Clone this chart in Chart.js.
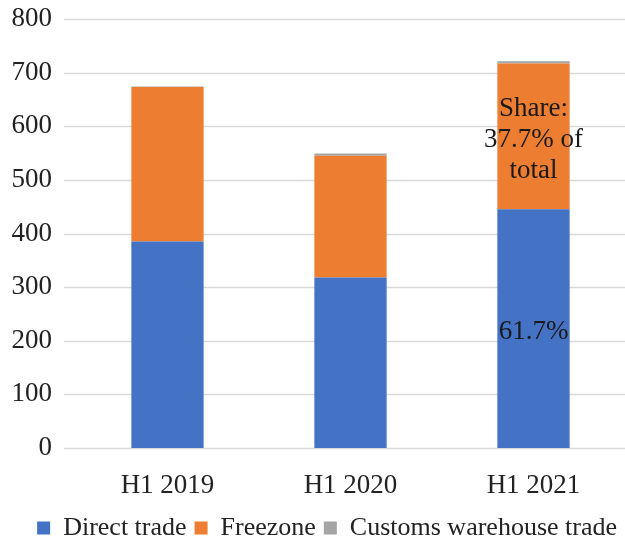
<!DOCTYPE html>
<html>
<head>
<meta charset="utf-8">
<title>Trade by regime</title>
<script src="https://cdn.jsdelivr.net/npm/chart.js@4.4.1/dist/chart.umd.min.js"></script>
<style>
  html, body { margin: 0; padding: 0; background: #fff; overflow: hidden; }
  canvas { display: block; }
</style>
</head>
<body>
<canvas id="tradeChart" width="625" height="544"></canvas>
<script>
const categories = ['H1 2019', 'H1 2020', 'H1 2021'];
const directTrade = [385, 318, 445];
const freezone = [288, 227, 272];
const customsWarehouse = [1, 4, 4];
const yTicks = [0, 100, 200, 300, 400, 500, 600, 700, 800];

const FONT = "'Liberation Serif', 'Times New Roman', serif";
const TEXT = '#222222';

// share of the last half-year, shown inside its bar segments
const last = categories.length - 1;
const lastTotal = directTrade[last] + freezone[last] + customsWarehouse[last];
const pct = v => (v / lastTotal * 100).toFixed(1) + '%';

// horizontal grid, running past the plot to the right edge
const gridLines = {
  id: 'gridLines',
  beforeDatasetsDraw(chart) {
    const {ctx, chartArea, scales: {y}} = chart;
    ctx.save();
    ctx.strokeStyle = '#d9d9d9';
    ctx.lineWidth = 1.5;
    yTicks.forEach(v => {
      const py = Math.round(y.getPixelForValue(v)) + 0.5;
      ctx.beginPath();
      ctx.moveTo(chartArea.left - 12, py);
      ctx.lineTo(chart.width, py);
      ctx.stroke();
    });
    ctx.restore();
  }
};

const shareLabels = {
  id: 'shareLabels',
  afterDatasetsDraw(chart) {
    const {ctx} = chart;
    const direct = chart.getDatasetMeta(0).data[last];
    const free = chart.getDatasetMeta(1).data[last];
    ctx.save();
    ctx.font = '27px ' + FONT;
    ctx.fillStyle = '#1a1a1a';
    ctx.textAlign = 'center';
    ctx.textBaseline = 'middle';

    ctx.fillText(pct(directTrade[last]), direct.x, (direct.y + direct.base) / 2 + 3);

    const lines = ['Share:', pct(freezone[last]) + ' of', 'total'];
    const mid = (free.y + free.base) / 2 + 3;
    const lh = 31;
    lines.forEach((t, i) => {
      ctx.fillText(t, free.x, mid + (i - 1) * lh);
    });
    ctx.restore();
  }
};

new Chart(document.getElementById('tradeChart'), {
  type: 'bar',
  data: {
    labels: categories,
    datasets: [
      { label: 'Direct trade', data: directTrade, backgroundColor: '#4472c4' },
      { label: 'Freezone', data: freezone, backgroundColor: '#ed7d31' },
      { label: 'Customs warehouse trade', data: customsWarehouse, backgroundColor: '#a5a5a5' }
    ]
  },
  options: {
    responsive: false,
    animation: false,
    layout: { padding: { left: 10, right: 0, top: 19, bottom: -7 } },
    datasets: {
      bar: { categoryPercentage: 1, barPercentage: 0.395 }
    },
    scales: {
      x: {
        stacked: true,
        grid: { display: false, drawTicks: false },
        border: { display: false },
        ticks: { color: TEXT, font: { family: FONT, size: 27 }, padding: 22 },
        afterFit(scale) { scale.height = 59; }
      },
      y: {
        stacked: true,
        min: 0,
        max: 800,
        grid: { display: false, drawTicks: false },
        border: { display: false },
        ticks: { stepSize: 100, color: TEXT, font: { family: FONT, size: 27 }, padding: 24 },
        afterFit(scale) {
          scale.width = 66;
          scale.paddingTop = 0;
          scale.paddingBottom = 0;
        }
      }
    },
    plugins: {
      tooltip: { enabled: false },
      legend: {
        position: 'bottom',
        align: 'end',
        labels: {
          color: TEXT,
          font: { family: FONT, size: 26 },
          boxWidth: 13,
          boxHeight: 13,
          padding: 8
        }
      }
    }
  },
  plugins: [gridLines, shareLabels]
});
</script>
</body>
</html>
